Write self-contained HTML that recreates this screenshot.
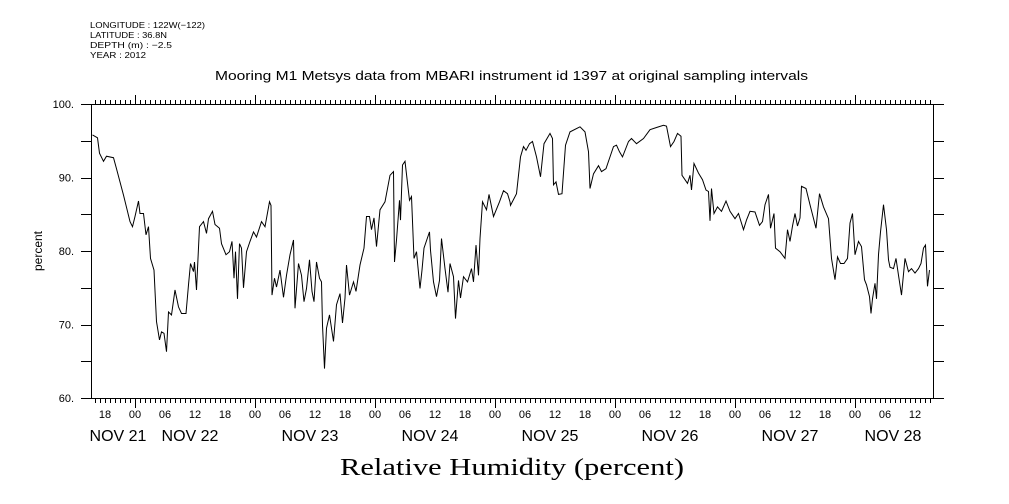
<!DOCTYPE html>
<html><head><meta charset="utf-8"><style>
html,body{margin:0;padding:0;background:#fff;}
svg{display:block;font-family:"Liberation Sans",sans-serif;}
</style></head><body>
<svg id="chart" width="1009" height="504" viewBox="0 0 1009 504" xmlns="http://www.w3.org/2000/svg">
<g font-size="8.5" fill="#000">
<text x="90" y="28" textLength="115" lengthAdjust="spacingAndGlyphs">LONGITUDE : 122W(−122)</text>
<text x="90" y="38" textLength="77" lengthAdjust="spacingAndGlyphs">LATITUDE : 36.8N</text>
<text x="90" y="48" textLength="82" lengthAdjust="spacingAndGlyphs">DEPTH (m) : −2.5</text>
<text x="90" y="58" textLength="56" lengthAdjust="spacingAndGlyphs">YEAR : 2012</text>
</g>
<text x="215" y="80" textLength="593" lengthAdjust="spacingAndGlyphs" font-size="13">Mooring M1 Metsys data from MBARI instrument id 1397 at original sampling intervals</text>
<text x="340" y="475" textLength="344" lengthAdjust="spacingAndGlyphs" font-size="24" font-family="'Liberation Serif',serif">Relative Humidity (percent)</text>
<text transform="translate(42,251) rotate(-90)" text-anchor="middle" font-size="12">percent</text>
<g id="axes"></g>
<g id="series"></g>
</svg>
<script>
const timeHours=[15.5,16.5,16.9,17.7,18.3,19.7,20.3,21.7,23,23.5,24,24.7,25,25.7,26.2,26.7,27.1,27.8,28.3,28.9,29.3,29.8,30.3,30.7,31.3,32,32.7,33.3,34.2,34.7,35.1,35.7,35.9,36.3,36.9,37.7,38.3,38.7,39.5,40,40.9,41.3,42.2,42.9,43.4,43.8,44.1,44.5,44.9,45.3,45.7,46.3,47,47.7,48.3,49.3,50,50.9,51.2,51.4,51.9,52.3,53,53.7,54.3,55,55.7,56,56.7,57.3,57.8,58.3,58.9,59.4,59.8,60.3,60.9,61.3,61.5,61.9,62.3,62.9,63.3,63.7,64.3,65,65.5,66,66.3,66.9,67.7,68.2,69,69.8,70.3,70.9,71.3,71.8,72.3,73,74,75,75.7,75.9,76.3,76.9,77.1,77.5,78,78.9,79.3,79.8,80.3,81,81.4,81.8,82.9,83.1,83.7,84.3,84.9,85.3,86,86.6,87,87.7,88.1,88.7,89.1,89.7,90.5,91.3,91.7,92.2,92.7,93,93.5,94.3,94.8,95.7,96.9,97.7,98.5,99,99.1,100.3,101.1,101.7,102.2,102.9,103.5,104.3,105.1,105.8,107,107.5,107.7,108.2,108.7,109.4,110.1,111,113,114,114.7,115,115.7,116.7,117.3,118.2,119,119.7,120.3,120.9,121.5,122.7,123.3,124.3,125.7,127,128.3,129.7,130.3,131.1,131.8,132.5,133.2,133.4,134,134.5,135,135.3,135.8,136.7,137.5,138.2,138.7,139,139.3,139.8,140.5,141.3,142.2,143,144,144.7,145.7,146.3,147,148,148.9,149.5,150,150.7,151.1,151.8,152.1,153,154,154.5,155,155.5,156,156.5,157,157.3,158.2,159,160.2,160.9,161.7,162.7,163.3,164,164.5,165.1,165.8,166.5,167,167.5,168,168.7,169.3,169.9,170.3,170.9,171.2,171.5,172,172.3,172.7,173.1,173.7,174.3,174.7,175,175.7,176.2,176.7,177.3,178,178.7,179.3,180,180.7,181.2,181.7,182.1,182.5,182.9];
const humidity=[95.8,95.4,93.3,92.2,92.9,92.7,91.2,87.6,84.0,83.3,84.7,86.8,85.1,85.1,82.2,83.3,79.0,77.4,70.4,67.9,69.0,68.8,66.3,71.7,71.3,74.7,72.4,71.5,71.5,75.4,78.3,77.2,78.5,74.7,83.3,84.0,82.4,84.4,85.4,83.6,83.1,81.0,79.5,79.9,81.3,76.3,79.9,73.5,81.0,80.4,75.0,79.9,81.3,82.6,81.9,84.0,83.3,86.7,86.2,74.0,76.3,75.1,77.4,73.7,76.7,79.5,81.5,72.2,78.3,76.7,73.1,74.9,78.8,74.5,73.1,78.5,76.3,75.8,69.9,64.0,69.5,71.3,69.5,67.7,72.7,74.2,70.2,73.6,78.1,74.0,75.8,74.5,78.1,80.4,84.7,84.7,82.9,84.5,80.6,85.6,86.7,90.3,90.8,78.5,81.5,86.9,84.2,91.7,92.2,86.9,87.4,79.0,79.9,74.9,77.4,80.4,82.6,80.1,75.8,73.8,76.0,81.7,77.6,74.4,78.3,76.5,70.8,76.0,73.6,76.5,75.8,77.6,75.8,80.8,76.7,81.7,86.7,85.6,87.7,84.7,86.7,88.2,87.8,86.7,86.2,87.8,92.8,94.2,93.7,94.6,94.9,92.8,90.1,94.6,96.0,95.3,89.0,89.4,87.7,87.8,94.4,96.2,96.9,96.2,93.5,88.5,90.5,91.6,90.8,91.2,92.8,94.2,94.4,93.5,92.8,94.9,95.3,94.6,95.3,96.5,96.8,97.1,97.0,94.2,94.9,96.0,95.6,90.3,89.7,89.2,90.3,88.3,91.9,90.6,89.7,88.3,88.1,84.1,88.5,85.1,86.0,85.4,86.8,85.4,84.4,85.1,82.9,84.2,85.4,85.3,83.5,84.0,86.3,87.7,83.1,85.1,80.4,79.9,79.0,82.9,81.3,83.4,85.1,83.4,84.5,88.8,88.5,86.3,83.1,87.8,86.0,84.4,79.0,76.1,79.2,78.3,78.3,79.0,83.8,85.1,79.5,81.3,80.6,76.1,75.4,73.8,71.5,73.5,75.6,73.5,79.5,82.6,86.3,82.9,78.8,77.8,77.6,79.0,76.7,74.0,79.0,77.2,77.6,77.0,77.6,78.3,80.4,80.8,75.2,77.4];
const yTickValues=[60,70,80,90,100];
const yTickLabels=["60.","70.","80.","90.","100."];
const hourLabels=["18","00","06","12"];
const dayLabels=["NOV 21","NOV 22","NOV 23","NOV 24","NOV 25","NOV 26","NOV 27","NOV 28"];

const NS="http://www.w3.org/2000/svg";
const L=91,R=933,T=104,B=398;
const xOf=h=>15+5*h;
const yOf=v=>B-(v-60)*(B-T)/40;
const axes=document.getElementById('axes');
function mk(tag,attrs,parent){const e=document.createElementNS(NS,tag);for(const k in attrs)e.setAttribute(k,attrs[k]);parent.appendChild(e);return e;}

const frame=mk('rect',{x:L+0.5,y:T+0.5,width:R-L,height:B-T,fill:'none',stroke:'#000','stroke-width':1},axes);



let d='';
for(let h=Math.ceil((L-15)/5);xOf(h)<=R;h++){
  const x=xOf(h)+0.5, major=(h%24===0);
  const len=major?9:4;
  d+=`M${x},${T}v${-len}M${x},${B+1}v${len}`;
}
for(let v=60;v<=100;v+=5){
  const y=Math.round(yOf(v))+0.5;
  d+=`M${L},${y}h-10M${R+1},${y}h10`;
}
const ticks=mk('path',{d:d,stroke:'#000','stroke-width':1,fill:'none'},axes);



yTickValues.forEach((v,i)=>{
  const t=mk('text',{x:74,y:yOf(v)+4,'text-anchor':'end','font-size':11},axes);
  t.textContent=yTickLabels[i];
  
  
});
for(let h=18;xOf(h)<=R;h+=6){
  const t=mk('text',{x:xOf(h),y:418,'text-anchor':'middle','font-size':11},axes);
  t.textContent=hourLabels[(h/6-3+400)%4];
  
  
}
dayLabels.forEach((lab,i)=>{
  let x=xOf(i*24+12)-5;
  if(x<118)x=118;
  if(x>893)x=893;
  const t=mk('text',{x:x,y:441,'text-anchor':'middle','font-size':16},axes);
  t.textContent=lab;
  
  
});

let p='';
timeHours.forEach((h,i)=>{p+=(i?'L':'M')+xOf(h).toFixed(1)+','+yOf(humidity[i]).toFixed(1);});
const line=mk('path',{d:p,fill:'none',stroke:'#000','stroke-width':1},document.getElementById('series'));


</script>
</body></html>
